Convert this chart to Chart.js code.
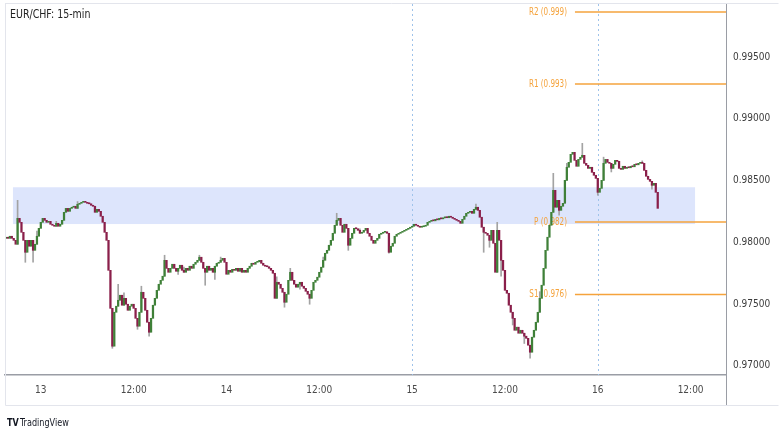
<!DOCTYPE html>
<html>
<head>
<meta charset="utf-8">
<script src="https://cdn.jsdelivr.net/npm/chart.js@4.4.1/dist/chart.umd.min.js"></script>
<style>
  body { margin: 0; background: #ffffff; }
  #wrap { width: 780px; height: 439px; }
</style>
</head>
<body>
<div id="wrap"><canvas id="eurchf" width="780" height="439"></canvas></div>
<script>
// EUR/CHF 15-min closes, one per candle
const closes = [
  0.98041, 0.98032, 0.98049, 0.98032, 0.98016, 0.97984, 0.98194, 0.98162, 0.98081, 0.98016,
  0.97919, 0.98016, 0.97968, 0.98016, 0.97935, 0.97984, 0.98049, 0.98113, 0.98162, 0.98194,
  0.98178, 0.98162, 0.98170, 0.98146, 0.98138, 0.98130, 0.98154, 0.98130, 0.98146, 0.98178,
  0.98243, 0.98275, 0.98251, 0.98275, 0.98284, 0.98292, 0.98275, 0.98308, 0.98316, 0.98324,
  0.98332, 0.98324, 0.98316, 0.98312, 0.98300, 0.98292, 0.98243, 0.98267, 0.98251, 0.98211,
  0.98162, 0.98081, 0.98016, 0.97773, 0.97465, 0.97158, 0.97433, 0.97482, 0.97530, 0.97571,
  0.97490, 0.97546, 0.97498, 0.97449, 0.97482, 0.97498, 0.97465, 0.97384, 0.97320, 0.97433,
  0.97595, 0.97546, 0.97449, 0.97352, 0.97271, 0.97384, 0.97490, 0.97546, 0.97611, 0.97660,
  0.97692, 0.97725, 0.97854, 0.97789, 0.97757, 0.97789, 0.97822, 0.97789, 0.97765, 0.97789,
  0.97814, 0.97773, 0.97757, 0.97789, 0.97773, 0.97806, 0.97789, 0.97822, 0.97838, 0.97854,
  0.97879, 0.97838, 0.97789, 0.97757, 0.97806, 0.97773, 0.97789, 0.97757, 0.97806, 0.97830,
  0.97838, 0.97854, 0.97870, 0.97838, 0.97741, 0.97773, 0.97757, 0.97781, 0.97773, 0.97789,
  0.97765, 0.97789, 0.97757, 0.97773, 0.97757, 0.97789, 0.97806, 0.97830, 0.97822, 0.97838,
  0.97842, 0.97854, 0.97830, 0.97814, 0.97806, 0.97802, 0.97789, 0.97773, 0.97749, 0.97546,
  0.97676, 0.97660, 0.97627, 0.97595, 0.97514, 0.97579, 0.97692, 0.97757, 0.97692, 0.97660,
  0.97636, 0.97660, 0.97676, 0.97644, 0.97627, 0.97603, 0.97579, 0.97546, 0.97611, 0.97676,
  0.97692, 0.97717, 0.97757, 0.97798, 0.97854, 0.97911, 0.97935, 0.97976, 0.98016, 0.98073,
  0.98138, 0.98178, 0.98194, 0.98138, 0.98081, 0.98146, 0.98113, 0.97976, 0.98032, 0.98073,
  0.98113, 0.98110, 0.98097, 0.98073, 0.98081, 0.98097, 0.98113, 0.98073, 0.98049, 0.98016,
  0.97992, 0.98016, 0.98032, 0.98065, 0.98073, 0.98081, 0.98085, 0.98073, 0.97919, 0.97968,
  0.97992, 0.98049, 0.98065, 0.98073, 0.98081, 0.98089, 0.98097, 0.98105, 0.98113, 0.98122,
  0.98130, 0.98146, 0.98138, 0.98130, 0.98122, 0.98126, 0.98130, 0.98138, 0.98162, 0.98170,
  0.98178, 0.98174, 0.98186, 0.98182, 0.98194, 0.98190, 0.98198, 0.98203, 0.98199, 0.98211,
  0.98203, 0.98194, 0.98186, 0.98178, 0.98170, 0.98154, 0.98186, 0.98211, 0.98235, 0.98243,
  0.98251, 0.98235, 0.98267, 0.98284, 0.98259, 0.98203, 0.98122, 0.98081, 0.98073, 0.98057,
  0.98016, 0.98097, 0.97992, 0.97757, 0.98097, 0.98016, 0.97854, 0.97773, 0.97611, 0.97587,
  0.97490, 0.97433, 0.97384, 0.97287, 0.97312, 0.97263, 0.97287, 0.97263, 0.97239, 0.97222,
  0.97166, 0.97109, 0.97231, 0.97287, 0.97352, 0.97433, 0.97546, 0.97652, 0.97789, 0.97935,
  0.98041, 0.98138, 0.98243, 0.98421, 0.98284, 0.98340, 0.98259, 0.98292, 0.98316, 0.98502,
  0.98608, 0.98648, 0.98713, 0.98729, 0.98664, 0.98616, 0.98672, 0.98689, 0.98705, 0.98640,
  0.98624, 0.98599, 0.98608, 0.98567, 0.98543, 0.98518, 0.98405, 0.98437, 0.98502, 0.98640,
  0.98672, 0.98648, 0.98640, 0.98599, 0.98632, 0.98664, 0.98656, 0.98599, 0.98591, 0.98616,
  0.98599, 0.98608, 0.98604, 0.98616, 0.98612, 0.98632, 0.98628, 0.98640, 0.98648, 0.98640,
  0.98583, 0.98535, 0.98510, 0.98494, 0.98462, 0.98478, 0.98405, 0.98275
];
const firstOpen = 0.98032;

// the longer wicks that stand out, [candle, price]
const wickHighs = [[6, 0.98340], [16, 0.98090], [26, 0.98170], [37, 0.98330], [58, 0.97660],
  [61, 0.97590], [70, 0.97644], [82, 0.97895], [92, 0.97800], [100, 0.97895], [111, 0.97880],
  [140, 0.97720], [147, 0.97789], [164, 0.97880], [171, 0.98235], [183, 0.98110],
  [243, 0.98310], [254, 0.98162], [276, 0.97600], [283, 0.98559], [290, 0.98640],
  [298, 0.98802], [309, 0.98690], [329, 0.98660]];
const wickLows = [[10, 0.97838], [14, 0.97838], [55, 0.97141], [68, 0.97295], [74, 0.97239],
  [89, 0.97740], [103, 0.97652], [108, 0.97700], [144, 0.97474], [152, 0.97620], [157, 0.97498],
  [177, 0.97935], [198, 0.97911], [247, 0.97919], [250, 0.97960], [256, 0.97725],
  [262, 0.97330], [268, 0.97180], [271, 0.97060], [286, 0.98220], [306, 0.98381],
  [313, 0.98570], [334, 0.98430]];

const timeTicks = [18, 66, 114, 162, 210, 258, 306, 354];
const timeLabels = ["13", "12:00", "14", "12:00", "15", "12:00", "16", "12:00"];
const priceTicks = [0.970, 0.975, 0.980, 0.985, 0.990, 0.995];
const sessionBreaks = [210, 306];

const pivotNames = ["R2", "R1", "P", "S1"];
const pivotTags = ["0.999", "0.993", "0.982", "0.976"];
const pivotLevels = [0.99866, 0.99283, 0.98165, 0.97576];
const pivotFrom = 294.2;

const zoneLow = 0.98148, zoneHigh = 0.98446, zoneFrom = 3.6, zoneTo = 356.3;

const UP = "#3f8038", DOWN = "#8a1f4a", WICK = "#a3a3a3", ORANGE = "#f5a33c";
const FONT = "'DejaVu Sans Condensed', 'DejaVu Sans', sans-serif";

const opens = closes.map((c, i) => (i === 0 ? firstOpen : closes[i - 1]));
const bodies = closes.map((c, i) => ({ x: i, y: [opens[i], c] }));
const bodyColors = closes.map((c, i) => (c >= opens[i] ? UP : DOWN));

const wickMap = {};
closes.forEach((c, i) => { wickMap[i] = [Math.min(c, opens[i]), Math.max(c, opens[i])]; });
wickHighs.forEach(([i, p]) => { wickMap[i][1] = p; });
wickLows.forEach(([i, p]) => { wickMap[i][0] = p; });
const wickIdx = [...new Set([...wickHighs, ...wickLows].map(w => w[0]))];
const wicks = wickIdx.map(i => ({ x: i, y: wickMap[i] }));

// squeeze text sideways, the chart's own font is narrower than anything installed
function narrowText(ctx, text, x, y, sx) {
  ctx.save();
  ctx.translate(x, y);
  ctx.scale(sx, 1);
  ctx.fillText(text, 0, 0);
  ctx.restore();
}

const overlay = {
  id: "overlay",
  beforeDatasetsDraw(chart) {
    const { ctx, chartArea: a, scales: { x, y } } = chart;
    ctx.save();
    // support zone
    ctx.fillStyle = "#dde5fc";
    const zt = y.getPixelForValue(zoneHigh), zb = y.getPixelForValue(zoneLow);
    ctx.fillRect(x.getPixelForValue(zoneFrom), zt, x.getPixelForValue(zoneTo) - x.getPixelForValue(zoneFrom), zb - zt);
    // session breaks
    ctx.strokeStyle = "#9fc3ea";
    ctx.lineWidth = 1;
    ctx.setLineDash([2, 3]);
    sessionBreaks.forEach(v => {
      const px = Math.round(x.getPixelForValue(v)) + 0.5;
      ctx.beginPath(); ctx.moveTo(px, a.top); ctx.lineTo(px, a.bottom); ctx.stroke();
    });
    ctx.setLineDash([]);
    // pivot lines
    ctx.strokeStyle = ORANGE;
    ctx.lineWidth = 1.5;
    ctx.fillStyle = ORANGE;
    ctx.font = "10px " + FONT;
    ctx.textAlign = "right";
    ctx.textBaseline = "middle";
    const x0 = x.getPixelForValue(pivotFrom);
    pivotLevels.forEach((lv, k) => {
      const py = y.getPixelForValue(lv);
      ctx.beginPath(); ctx.moveTo(x0, py); ctx.lineTo(a.right, py); ctx.stroke();
      narrowText(ctx, pivotNames[k] + " (" + pivotTags[k] + ")", x0 - 8, py, 0.8);
    });
    ctx.restore();
  },
  afterDraw(chart) {
    const { ctx, chartArea: a } = chart;
    ctx.save();
    // frame
    ctx.strokeStyle = "#e3e5ec";
    ctx.lineWidth = 1;
    ctx.beginPath();
    ctx.moveTo(a.left + 0.5, 3.5); ctx.lineTo(a.left + 0.5, 405.5);
    ctx.lineTo(778.5, 405.5);
    ctx.moveTo(a.left, 3.5); ctx.lineTo(778.5, 3.5);
    ctx.stroke();
    ctx.strokeStyle = "#9a9da5";
    ctx.beginPath();
    ctx.moveTo(a.right + 0.5, a.top); ctx.lineTo(a.right + 0.5, 405);
    ctx.stroke();
    // title
    ctx.fillStyle = "#222";
    ctx.font = "12.5px " + FONT;
    ctx.textAlign = "left";
    ctx.textBaseline = "middle";
    narrowText(ctx, "EUR/CHF: 15-min", 10, 15, 0.84);
    // logo
    ctx.fillStyle = "#131722";
    ctx.font = "bold 10px " + FONT;
    narrowText(ctx, "TV", 7, 423, 0.9);
    ctx.font = "10px " + FONT;
    narrowText(ctx, "TradingView", 20, 423, 0.9);
    ctx.restore();
  }
};

new Chart(document.getElementById("eurchf").getContext("2d"), {
  type: "bar",
  data: {
    datasets: [
      { data: bodies, backgroundColor: bodyColors, barThickness: 1.6, minBarLength: 1, grouped: false, order: 0 },
      { data: wicks, backgroundColor: WICK, barThickness: 1, grouped: false, order: 1 }
    ]
  },
  options: {
    responsive: false,
    animation: false,
    layout: { padding: { left: 5, top: 4, right: 0, bottom: 34 } },
    plugins: { legend: { display: false }, tooltip: { enabled: false } },
    scales: {
      x: {
        type: "linear",
        offset: false,
        min: -0.517,
        max: 372.3,
        grid: { display: false, drawTicks: false },
        border: { color: "#9a9da5", width: 1.5 },
        afterBuildTicks: s => { s.ticks = timeTicks.map(v => ({ value: v })); },
        afterFit: s => { s.height = 30; s.paddingLeft = 0; s.paddingRight = 0; },
        ticks: {
          autoSkip: false,
          maxRotation: 0,
          padding: 9,
          color: "#4a4a4a",
          font: { family: FONT, size: 10 },
          callback: (v, i) => timeLabels[i]
        }
      },
      y: {
        position: "right",
        min: 0.969246,
        max: 0.999311,
        grid: { display: false, drawTicks: false },
        border: { color: "#9a9da5", width: 1 },
        afterBuildTicks: s => { s.ticks = priceTicks.map(v => ({ value: v })); },
        afterFit: s => { s.width = 54; s.paddingTop = 0; s.paddingBottom = 0; },
        ticks: {
          padding: 7,
          color: "#3c3c3c",
          font: { family: FONT, size: 10 },
          callback: v => v.toFixed(5)
        }
      }
    }
  },
  plugins: [overlay]
});
</script>
</body>
</html>
